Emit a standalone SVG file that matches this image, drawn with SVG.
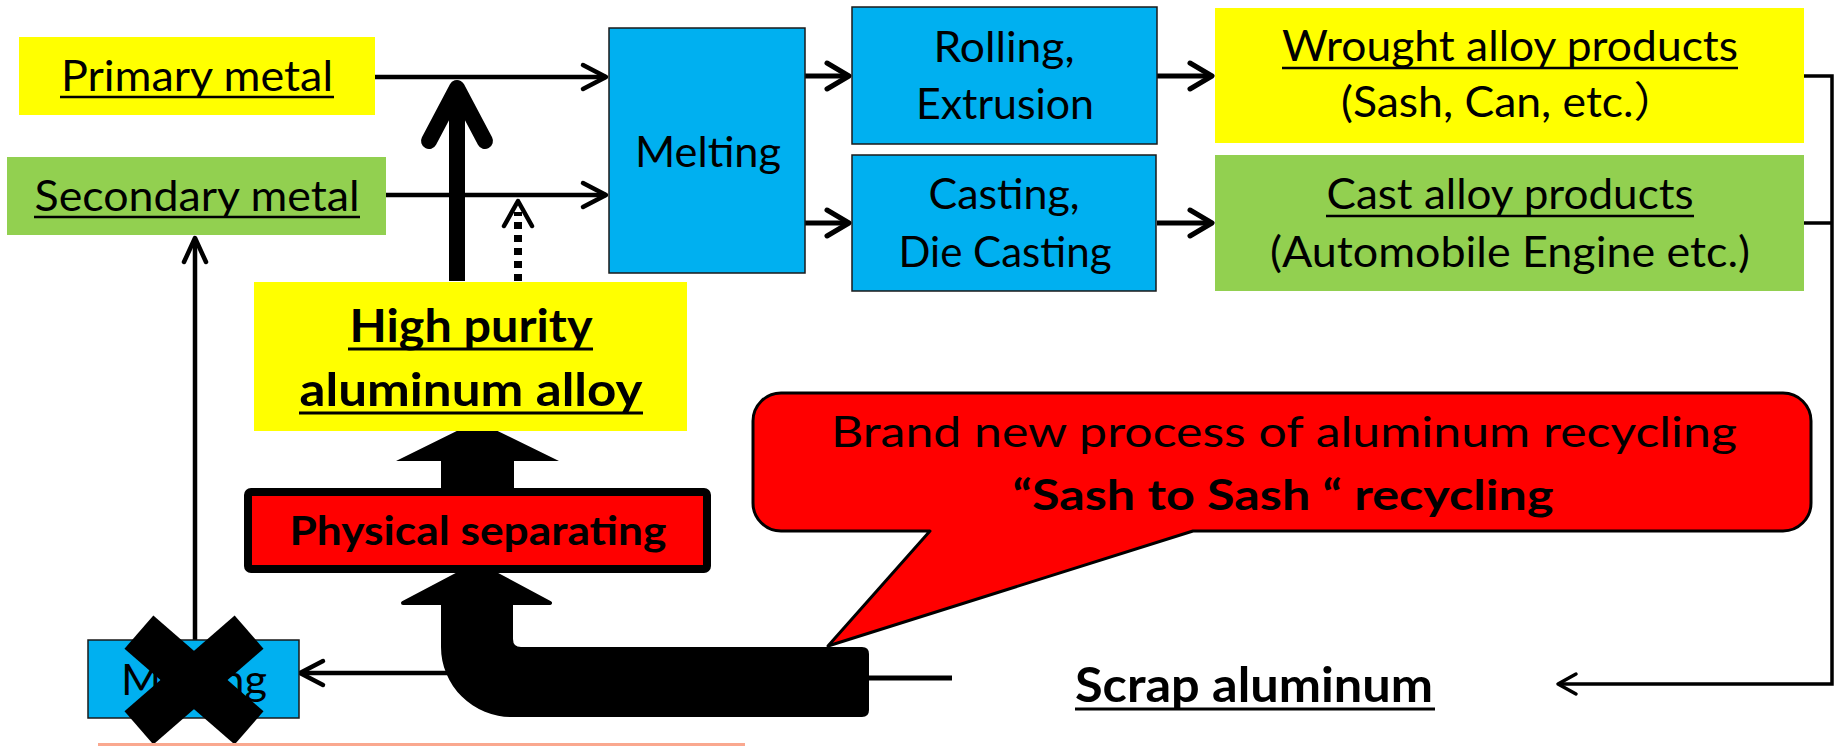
<svg xmlns="http://www.w3.org/2000/svg" width="1841" height="746" viewBox="0 0 1841 746">
<style>
.t{font-family:Lato,"Liberation Sans","Noto Sans CJK JP",sans-serif;font-size:42px;fill:#000;text-anchor:middle}
.b{font-weight:bold}
.ul{stroke:#000;stroke-width:2.5;fill:none}
.ulb{stroke:#000;stroke-width:3;fill:none}
.yel{fill:#FFFF00}
.grn{fill:#92D050}
.blu{fill:#00B0F0;stroke:#1a1a1a;stroke-width:1.5}
.ln{stroke:#000;stroke-width:4.5;fill:none}
.ln5{stroke:#000;stroke-width:5;fill:none}
.hd{stroke:#000;stroke-width:4.5;fill:none;stroke-linecap:round;stroke-linejoin:round}
.hd5{stroke:#000;stroke-width:5;fill:none;stroke-linecap:round;stroke-linejoin:round}
</style>
<rect width="1841" height="746" fill="#fff"/>

<g id="connectors">
  <line class="ln" x1="375" y1="77" x2="606" y2="77"/>
  <path class="hd" d="M583 65 L606 77 L583 89"/>
  <line class="ln" x1="386" y1="195" x2="606" y2="195"/>
  <path class="hd" d="M583 183 L606 195 L583 207"/>
  <line stroke="#000" stroke-width="16" x1="457" y1="281" x2="457" y2="95"/>
  <path d="M429 141 L457 88 L485 141" stroke="#000" stroke-width="16" fill="none" stroke-linecap="round" stroke-linejoin="round"/>
  <line x1="518" y1="281" x2="518" y2="212" stroke="#000" stroke-width="8" stroke-dasharray="7 6"/>
  <path class="hd" d="M504 226 L518 201 L532 226"/>
  <line class="ln5" x1="805" y1="76" x2="848" y2="76"/>
  <path class="hd5" d="M827 63 L849 76 L827 89"/>
  <line class="ln5" x1="805" y1="223" x2="848" y2="223"/>
  <path class="hd5" d="M827 210 L849 223 L827 236"/>
  <line class="ln5" x1="1157" y1="76" x2="1210" y2="76"/>
  <path class="hd5" d="M1190 63 L1212 76 L1190 89"/>
  <line class="ln5" x1="1157" y1="223" x2="1210" y2="223"/>
  <path class="hd5" d="M1190 210 L1212 223 L1190 236"/>
  <path d="M1804 76 H1832 V684 H1558" stroke="#000" stroke-width="3.5" fill="none"/>
  <line x1="1804" y1="223" x2="1832" y2="223" stroke="#000" stroke-width="3.5"/>
  <path d="M1576 674 L1558 684 L1576 694" stroke="#000" stroke-width="3.5" fill="none" stroke-linecap="round" stroke-linejoin="round"/>
  <line class="ln" x1="195" y1="640" x2="195" y2="240"/>
  <path class="hd" d="M184 262 L195 238 L206 262"/>
  <line class="ln" x1="460" y1="673" x2="302" y2="673"/>
  <path class="hd" d="M323 661 L300 673 L323 685"/>
  <line x1="860" y1="678" x2="952" y2="678" stroke="#000" stroke-width="5"/>
  <path d="M441 492 V461 H396 L477 421 L559 461 H514 V492 Z" fill="#000"/>
  <path d="M403 603 L477 564 L550 603 Z" fill="#000" stroke="#000" stroke-width="4" stroke-linejoin="round"/>
  <path d="M441 600 V647 A71 70 0 0 0 512 717 H862 Q869 717 869 710 V654 Q869 647 862 647 H521 Q513 647 513 639 V600 Z" fill="#000"/>
</g>

<g id="primary-metal">
  <rect class="yel" x="19" y="37" width="356" height="78"/>
  <text class="t" x="197" y="91" textLength="272" lengthAdjust="spacingAndGlyphs">Primary metal</text>
  <line class="ul" x1="60" y1="97" x2="334" y2="97"/>
</g>

<g id="secondary-metal">
  <rect class="grn" x="7" y="157" width="379" height="78"/>
  <text class="t" x="197" y="211" textLength="325" lengthAdjust="spacingAndGlyphs">Secondary metal</text>
  <line class="ul" x1="34" y1="217" x2="360" y2="217"/>
</g>

<g id="melting">
  <rect class="blu" x="609" y="28" width="196" height="245"/>
  <text class="t" x="708" y="167" textLength="146" lengthAdjust="spacingAndGlyphs">Melting</text>
</g>

<g id="rolling">
  <rect class="blu" x="852" y="7" width="305" height="137"/>
  <text class="t" x="1004" y="62" textLength="141" lengthAdjust="spacingAndGlyphs">Rolling,</text>
  <text class="t" x="1005" y="119" textLength="178" lengthAdjust="spacingAndGlyphs">Extrusion</text>
</g>

<g id="casting">
  <rect class="blu" x="852" y="155" width="304" height="136"/>
  <text class="t" x="1004" y="209" textLength="151" lengthAdjust="spacingAndGlyphs">Casting,</text>
  <text class="t" x="1005" y="267" textLength="213" lengthAdjust="spacingAndGlyphs">Die Casting</text>
</g>

<g id="wrought">
  <rect class="yel" x="1215" y="8" width="589" height="135"/>
  <text class="t" x="1510" y="61" textLength="456" lengthAdjust="spacingAndGlyphs">Wrought alloy products</text>
  <line class="ul" x1="1282" y1="68" x2="1738" y2="68"/>
  <text class="t" x="1341" y="117" style="text-anchor:start" textLength="337" lengthAdjust="spacingAndGlyphs">(Sash, Can, etc.）</text>
</g>

<g id="cast">
  <rect class="grn" x="1215" y="155" width="589" height="136"/>
  <text class="t" x="1510" y="209" textLength="367" lengthAdjust="spacingAndGlyphs">Cast alloy products</text>
  <line class="ul" x1="1326" y1="216" x2="1694" y2="216"/>
  <text class="t" x="1510" y="267" textLength="480" lengthAdjust="spacingAndGlyphs">(Automobile Engine etc.)</text>
</g>

<g id="high-purity">
  <rect class="yel" x="254" y="282" width="433" height="149"/>
  <text class="t b" x="471" y="342" style="font-size:46px" textLength="243" lengthAdjust="spacingAndGlyphs">High purity</text>
  <line class="ulb" x1="348" y1="349" x2="593" y2="349"/>
  <text class="t b" x="471" y="406" style="font-size:46px" textLength="343" lengthAdjust="spacingAndGlyphs">aluminum alloy</text>
  <line class="ulb" x1="299" y1="413" x2="643" y2="413"/>
</g>

<g id="physical-separating">
  <rect x="248" y="492" width="459" height="77" rx="3" fill="#FF0000" stroke="#000" stroke-width="8"/>
  <text class="t b" x="478" y="545" style="font-size:40px" textLength="377" lengthAdjust="spacingAndGlyphs">Physical separating</text>
</g>

<g id="callout">
  <path d="M781 393 H1783 A28 28 0 0 1 1811 421 V503 A28 28 0 0 1 1783 531 H1193 L828 646 L930 531 H781 A28 28 0 0 1 753 503 V421 A28 28 0 0 1 781 393 Z" fill="#FF0000" stroke="#000" stroke-width="3" stroke-linejoin="round"/>
  <text class="t" x="1284" y="447" textLength="906" lengthAdjust="spacingAndGlyphs">Brand new process of aluminum recycling</text>
  <text class="t b" x="1283" y="510" textLength="541" lengthAdjust="spacingAndGlyphs">“Sash to Sash “ recycling</text>
</g>

<g id="scrap-aluminum">
  <text class="t b" x="1254" y="702" style="font-size:47px" textLength="358" lengthAdjust="spacingAndGlyphs">Scrap aluminum</text>
  <line class="ulb" x1="1075" y1="709" x2="1435" y2="709"/>
</g>

<g id="melting-old">
  <rect class="blu" x="88" y="640" width="211" height="78"/>
  <text class="t" x="194" y="695" textLength="146" lengthAdjust="spacingAndGlyphs">Melting</text>
  <rect x="121" y="658" width="146" height="44" fill="#000" transform="rotate(41 194 680)"/>
  <rect x="121" y="658" width="146" height="44" fill="#000" transform="rotate(-41 194 680)"/>
</g>

<rect x="98" y="743" width="647" height="3" fill="#FAA88F"/>
</svg>
